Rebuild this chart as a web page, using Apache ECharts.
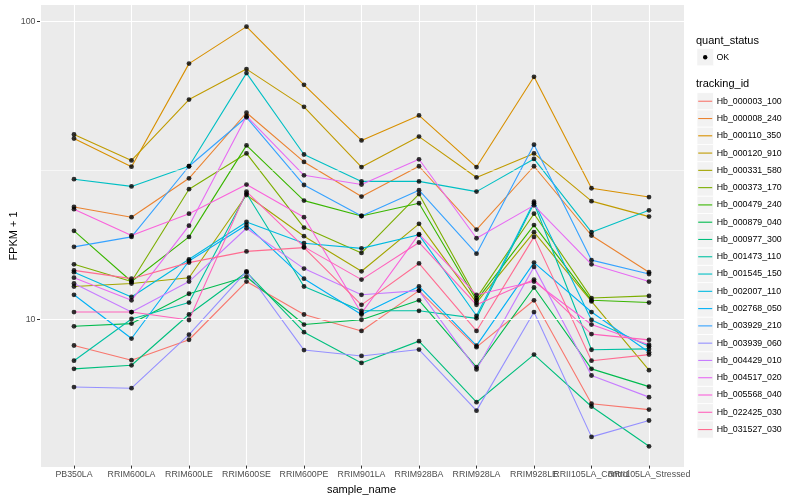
<!DOCTYPE html>
<html>
<head>
<meta charset="utf-8">
<script src="https://cdn.jsdelivr.net/npm/echarts/dist/echarts.min.js"></script>
<style>
html,body{margin:0;padding:0;background:#fff;}
#chart{width:800px;height:500px;}
</style>
</head>
<body>
<div id="chart"></div>
<script>
// ---- data ----
const categories = ['PB350LA','RRIM600LA','RRIM600LE','RRIM600SE','RRIM600PE','RRIM901LA','RRIM928BA','RRIM928LA','RRIM928LE','RRII105LA_Control','RRII105LA_Stressed'];
const trackingIds = ['Hb_000003_100','Hb_000008_240','Hb_000110_350','Hb_000120_910','Hb_000331_580','Hb_000373_170','Hb_000479_240','Hb_000879_040','Hb_000977_300','Hb_001473_110','Hb_001545_150','Hb_002007_110','Hb_002768_050','Hb_003929_210','Hb_003939_060','Hb_004429_010','Hb_004517_020','Hb_005568_040','Hb_022425_030','Hb_031527_030'];
const quantStatus = ['OK'];
const yTickLabels = ['10','100'];

const Hb_000003_100 = [8.1, 7.23, 8.47, 13.3, 10.3, 9.07, 12.4, 8.0, 11.5, 5.16, 4.93];
const Hb_000008_240 = [23.7, 21.9, 29.6, 49.2, 33.6, 25.7, 32.5, 19.9, 32.5, 19.0, 14.3];
const Hb_000110_350 = [40.3, 32.4, 72.0, 95.9, 61.1, 39.7, 48.2, 32.3, 65.0, 27.4, 25.6];
const Hb_000120_910 = [41.6, 34.0, 54.5, 69.0, 51.5, 32.3, 40.9, 29.8, 35.9, 24.8, 22.0];
const Hb_000331_580 = [12.8, 13.1, 13.7, 26.0, 18.9, 14.4, 20.8, 11.3, 19.5, 11.4, 6.69];
const Hb_000373_170 = [15.2, 13.3, 27.2, 35.9, 20.2, 16.6, 26.2, 11.7, 22.5, 11.7, 11.9];
const Hb_000479_240 = [19.7, 13.3, 18.8, 38.2, 24.9, 22.1, 24.4, 11.5, 20.6, 11.5, 11.3];
const Hb_000879_040 = [9.4, 9.6, 12.1, 13.8, 9.53, 9.89, 11.5, 6.85, 12.7, 6.76, 5.89];
const Hb_000977_300 = [6.76, 6.95, 10.3, 14.3, 8.98, 7.08, 8.38, 5.22, 7.55, 5.05, 3.71];
const Hb_001473_110 = [7.2, 9.95, 11.3, 26.3, 12.8, 10.6, 10.6, 10.0, 24.4, 7.84, 7.89];
const Hb_001545_150 = [29.4, 27.8, 32.5, 66.9, 35.6, 28.9, 28.9, 26.7, 34.4, 19.5, 23.1];
const Hb_002007_110 = [14.3, 11.8, 15.8, 21.1, 17.9, 17.2, 19.1, 10.2, 24.7, 9.87, 8.05];
const Hb_002768_050 = [12.0, 8.55, 15.6, 20.6, 13.6, 10.3, 12.8, 8.09, 15.4, 10.5, 7.69];
const Hb_003929_210 = [17.4, 18.8, 32.5, 47.5, 28.1, 22.1, 27.0, 16.5, 38.4, 15.7, 14.1];
const Hb_003939_060 = [5.87, 5.82, 8.81, 14.4, 7.82, 7.47, 7.85, 4.89, 10.5, 3.99, 4.53];
const Hb_004429_010 = [13.1, 10.5, 13.3, 20.1, 14.7, 12.0, 12.4, 6.73, 14.9, 6.42, 5.43];
const Hb_004517_020 = [13.7, 11.5, 20.5, 47.9, 30.3, 28.2, 34.3, 18.6, 24.0, 15.2, 13.3];
const Hb_005568_040 = [23.3, 19.0, 22.5, 28.2, 21.9, 10.4, 19.2, 12.0, 13.3, 9.53, 8.15];
const Hb_022425_030 = [10.5, 10.5, 9.87, 26.7, 17.4, 13.5, 18.0, 11.1, 13.5, 8.85, 8.46];
const Hb_031527_030 = [14.5, 13.6, 15.4, 16.8, 17.3, 11.1, 15.3, 9.07, 18.8, 7.2, 7.55];

const seriesValues = [Hb_000003_100, Hb_000008_240, Hb_000110_350, Hb_000120_910, Hb_000331_580,
  Hb_000373_170, Hb_000479_240, Hb_000879_040, Hb_000977_300, Hb_001473_110, Hb_001545_150,
  Hb_002007_110, Hb_002768_050, Hb_003929_210, Hb_003939_060, Hb_004429_010, Hb_004517_020,
  Hb_005568_040, Hb_022425_030, Hb_031527_030];

// ---- style ----
const palette = ['#F8766D','#EA8331','#D89000','#C09B00','#A3A500','#7CAE00','#39B600','#00BB4E','#00BF7D','#00C1A3','#00BFC4','#00BAE0','#00B0F6','#35A2FF','#9590FF','#C77CFF','#E76BF3','#FA62DB','#FF62BC','#FF6C91'];
const FONT = 'Liberation Sans, Arial, Helvetica, sans-serif';
const YMIN = 3.194, YMAX = 113.4;
const PANEL = {left: 40, top: 5, right: 684, bottom: 467};
const DATA_L = 74, DATA_R = 649;

const series = [];
// horizontal panel grid lines (grid 0)
series.push({
  type: 'line', xAxisIndex: 0, yAxisIndex: 0, data: [], z: 1, silent: true,
  markLine: {
    silent: true, symbol: 'none', label: {show: false}, animation: false,
    lineStyle: {color: '#ffffff', type: 'solid', width: 1.1},
    data: [
      {yAxis: 10}, {yAxis: 100},
      {yAxis: 31.6228, lineStyle: {color: '#ffffff', type: 'solid', width: 0.55}}
    ]
  }
});
seriesValues.forEach((vals, i) => {
  series.push({
    name: trackingIds[i], type: 'line', xAxisIndex: 1, yAxisIndex: 1,
    data: vals, showSymbol: false, symbol: 'none', z: 3, silent: true,
    lineStyle: {color: palette[i], width: 1.1}
  });
});
seriesValues.forEach((vals, i) => {
  series.push({
    name: trackingIds[i] + '_pts', type: 'scatter', xAxisIndex: 1, yAxisIndex: 1,
    data: vals, symbol: 'circle', symbolSize: 4.8, z: 5, silent: true,
    itemStyle: {color: '#000000'}
  });
});
series.push({type: 'scatter', xAxisIndex: 2, yAxisIndex: 2, data: [], silent: true});

// legend graphics
const graphics = [];
graphics.push({type: 'text', style: {text: 'quant_status', x: 696, y: 41, fill: '#000', font: '11px ' + FONT, verticalAlign: 'middle', align: 'left'}});
graphics.push({type: 'rect', shape: {x: 697, y: 48.7, width: 16.5, height: 17}, style: {fill: '#F2F2F2', stroke: '#fff', lineWidth: 0.5}});
graphics.push({type: 'circle', shape: {cx: 705.2, cy: 57.2, r: 2.2}, style: {fill: '#000'}});
graphics.push({type: 'text', style: {text: quantStatus[0], x: 716.5, y: 57.2, fill: '#000', font: '8.8px ' + FONT, verticalAlign: 'middle', align: 'left'}});
graphics.push({type: 'text', style: {text: 'tracking_id', x: 696, y: 84, fill: '#000', font: '11px ' + FONT, verticalAlign: 'middle', align: 'left'}});
const KEY_TOP = 92.6, KEY_H = 17.28;
trackingIds.forEach((id, i) => {
  const top = KEY_TOP + KEY_H * i;
  const cy = top + KEY_H / 2;
  graphics.push({type: 'rect', shape: {x: 697, y: top, width: 16.5, height: KEY_H}, style: {fill: '#F2F2F2', stroke: '#fff', lineWidth: 0.8}});
  graphics.push({type: 'line', shape: {x1: 698.2, y1: cy, x2: 712.2, y2: cy}, style: {stroke: palette[i], lineWidth: 1.1}});
  graphics.push({type: 'text', style: {text: id, x: 716.7, y: cy, fill: '#000', font: '8.8px ' + FONT, verticalAlign: 'middle', align: 'left'}});
});

const option = {
  animation: false,
  backgroundColor: '#ffffff',
  textStyle: {fontFamily: FONT},
  grid: [
    {left: PANEL.left, top: PANEL.top, width: PANEL.right - PANEL.left, height: PANEL.bottom - PANEL.top,
     show: true, backgroundColor: '#EBEBEB', borderWidth: 0, containLabel: false},
    {left: DATA_L, top: PANEL.top, width: DATA_R - DATA_L, height: PANEL.bottom - PANEL.top, show: false, containLabel: false},
    {left: PANEL.left, top: 21.3, width: PANEL.right - PANEL.left, height: 298, show: false, containLabel: false}
  ],
  xAxis: [
    {gridIndex: 0, type: 'value', min: 0, max: 1, show: false},
    {gridIndex: 1, type: 'category', data: categories, boundaryGap: false,
     name: 'sample_name', nameLocation: 'middle', nameGap: 15.5,
     nameTextStyle: {color: '#000', fontSize: 11, fontFamily: FONT},
     axisLine: {show: false},
     axisTick: {show: true, length: 3, interval: 0, lineStyle: {color: '#333333', width: 1}},
     axisLabel: {show: true, interval: 0, color: '#4D4D4D', fontSize: 8.8, margin: 4.5, fontFamily: FONT, hideOverlap: false},
     splitLine: {show: true, interval: 0, lineStyle: {color: '#ffffff', width: 1.1}}},
    {gridIndex: 2, type: 'value', min: 0, max: 1, show: false}
  ],
  yAxis: [
    {gridIndex: 0, type: 'log', logBase: 10, min: YMIN, max: YMAX,
     name: 'FPKM + 1', nameLocation: 'middle', nameGap: 22, nameRotate: 90,
     nameTextStyle: {color: '#000', fontSize: 11, fontFamily: FONT},
     axisLine: {show: false}, axisTick: {show: false}, axisLabel: {show: false}, splitLine: {show: false}},
    {gridIndex: 1, type: 'log', logBase: 10, min: YMIN, max: YMAX, show: false},
    {gridIndex: 2, type: 'log', logBase: 10, min: 10, max: 100,
     axisLine: {show: false},
     axisTick: {show: true, length: 3, lineStyle: {color: '#333333', width: 1}},
     axisLabel: {show: true, color: '#4D4D4D', fontSize: 8.8, margin: 4.5, fontFamily: FONT,
       formatter: (v) => { const k = Math.round(Math.log10(v)) - 1; return yTickLabels[k] !== undefined ? yTickLabels[k] : ''; }},
     splitLine: {show: false}}
  ],
  series: series,
  graphic: graphics
};

const chart = echarts.init(document.getElementById('chart'), null, {renderer: 'canvas'});
chart.setOption(option);
</script>
</body>
</html>
